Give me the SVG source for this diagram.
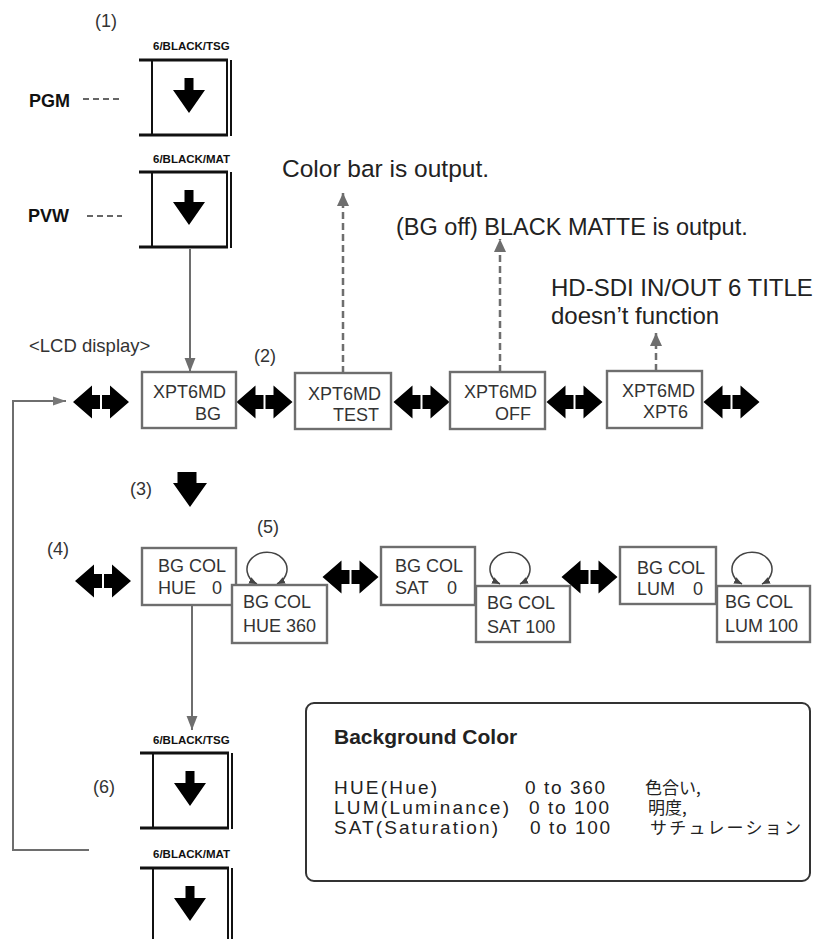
<svg xmlns="http://www.w3.org/2000/svg" width="814" height="939" viewBox="0 0 814 939">
<style>
.t{font-family:"Liberation Sans",Arial,sans-serif;fill:#333;font-size:18px}
.ann{font-family:"Liberation Sans",Arial,sans-serif;fill:#222;font-size:23.5px}
.num{font-family:"Liberation Sans",Arial,sans-serif;fill:#333;font-size:18px}
.lbl{font-family:"Liberation Sans",Arial,sans-serif;font-weight:bold;fill:#111;font-size:11.5px}
.pg{font-family:"Liberation Sans",Arial,sans-serif;font-weight:bold;fill:#111;font-size:18px}
.lg{font-family:"Liberation Sans",Arial,sans-serif;fill:#222;font-size:19px}
.jp{font-family:"Noto Sans CJK JP",sans-serif;fill:#222;font-size:17px}
.box{fill:#fff;stroke:#6e6e6e;stroke-width:2.4}
.con{fill:none;stroke:#6e6e6e;stroke-width:2}
.dash{fill:none;stroke:#6e6e6e;stroke-width:2.5;stroke-dasharray:7 4}
.pgdash{fill:none;stroke:#666;stroke-width:2.2;stroke-dasharray:6 4}
.loop{fill:none;stroke:#444;stroke-width:1.5}
</style>
<defs>
<marker id="ah" markerUnits="userSpaceOnUse" markerWidth="14" markerHeight="18" refX="18" refY="7" viewBox="0 0 18 14" orient="auto"><path d="M0,0 L18,7 L0,14 z" fill="#6e6e6e"/></marker>
<marker id="ahd" markerUnits="userSpaceOnUse" markerWidth="13" markerHeight="13" refX="13" refY="6" viewBox="0 0 13 12" orient="auto"><path d="M0,0 L13,6 L0,12 z" fill="#6e6e6e"/></marker>
<marker id="ahb" markerUnits="userSpaceOnUse" markerWidth="13" markerHeight="13" refX="13" refY="4.5" viewBox="0 0 13 9" orient="auto"><path d="M0,0 L13,4.5 L0,9 z" fill="#777"/></marker>
<marker id="ahl" markerUnits="userSpaceOnUse" markerWidth="8" markerHeight="8" refX="8" refY="3.5" viewBox="0 0 8 7" orient="auto-start-reverse"><path d="M0,0 L8,3.5 L0,7 z" fill="#444"/></marker>
<g id="btn">
<path d="M-13,0 H76 M-13,75 H76" stroke="#111" stroke-width="3" fill="none"/>
<rect x="0" y="0" width="75" height="75" fill="none" stroke="#111" stroke-width="2"/>
<path d="M79,0 V76" stroke="#111" stroke-width="2"/>
<polygon points="32.5,18 41.5,18 41.5,30 53,30 37,53 21,30 32.5,30" fill="#000"/>
</g>
<g id="dbl">
<polygon points="-28,0 -9,-16.5 -9,-7 -1,-7 -1,7 -9,7 -9,16.5" fill="#000"/>
<polygon points="28,0 9,-16.5 9,-7 1,-7 1,7 9,7 9,16.5" fill="#000"/>
</g>
</defs>
<rect width="814" height="939" fill="#fff"/>

<g id="connectors">
<path class="con" d="M190,249 V372" marker-end="url(#ah)"/>
<path class="con" d="M192,606 V730" marker-end="url(#ah)"/>
<path class="con" d="M89,850 H13 V401 H66" marker-end="url(#ahb)"/>
<path class="dash" d="M343,373 V193" marker-end="url(#ahd)"/>
<path class="dash" d="M500,372 V239" marker-end="url(#ahd)"/>
<path class="dash" d="M656,371 V333" marker-end="url(#ahd)"/>
<path class="pgdash" d="M83,99 H122"/>
<path class="pgdash" d="M87,216 H122"/>
<path class="loop" d="M257,584 A20,17 0 1 1 277,584" marker-start="url(#ahl)" marker-end="url(#ahl)"/>
<path class="loop" d="M500,584 A20,17 0 1 1 520,584" marker-start="url(#ahl)" marker-end="url(#ahl)"/>
<path class="loop" d="M742,584 A20,17 0 1 1 762,584" marker-start="url(#ahl)" marker-end="url(#ahl)"/>
<use href="#dbl" x="101" y="402"/>
<use href="#dbl" x="264.5" y="402"/>
<use href="#dbl" x="421.5" y="402"/>
<use href="#dbl" x="574.5" y="402"/>
<use href="#dbl" x="731.5" y="402"/>
<use href="#dbl" x="103" y="581"/>
<use href="#dbl" x="350.5" y="577"/>
<use href="#dbl" x="589.5" y="577"/>
<polygon points="177.5,472 196.5,472 196.5,483 207,483 190,507 173,483 177.5,483" fill="#000"/>
</g>

<g id="labels">
<text class="num" x="95" y="27">(1)</text>
<text class="num" x="254" y="362">(2)</text>
<text class="num" x="130" y="495">(3)</text>
<text class="num" x="47" y="555">(4)</text>
<text class="num" x="257" y="533">(5)</text>
<text class="num" x="93" y="793">(6)</text>
<text class="pg" x="29" y="107">PGM</text>
<text class="pg" x="28" y="222">PVW</text>
<text class="t" x="29" y="352" style="font-size:18.5px">&lt;LCD display&gt;</text>
<text class="ann" x="282" y="177" style="font-size:24.5px">Color bar is output.</text>
<text class="ann" x="396" y="235">(BG off) BLACK MATTE is output.</text>
<text class="ann" x="551" y="296" style="font-size:24px">HD-SDI IN/OUT 6 TITLE</text>
<text class="ann" x="551" y="324" style="font-size:24px"> doesn’t function</text>
</g>

<g id="btn-pgm">
<text class="lbl" x="153" y="50">6/BLACK/TSG</text>
<use href="#btn" x="152" y="60"/>
</g>
<g id="btn-pvw">
<text class="lbl" x="153" y="163">6/BLACK/MAT</text>
<use href="#btn" x="152" y="172"/>
</g>
<g id="btn-tsg2">
<text class="lbl" x="153" y="744">6/BLACK/TSG</text>
<use href="#btn" x="153" y="753"/>
</g>
<g id="btn-mat2">
<text class="lbl" x="153" y="858">6/BLACK/MAT</text>
<use href="#btn" x="153" y="868"/>
</g>

<g id="n-bg">
<rect class="box" x="142" y="372" width="94" height="56"/>
<text class="t" x="153" y="398">XPT6MD</text>
<text class="t" x="221" y="420" text-anchor="end">BG</text>
</g>
<g id="n-test">
<rect class="box" x="295" y="373" width="96" height="56"/>
<text class="t" x="308" y="400">XPT6MD</text>
<text class="t" x="379" y="421" text-anchor="end">TEST</text>
</g>
<g id="n-off">
<rect class="box" x="450" y="372" width="95" height="57"/>
<text class="t" x="464" y="398">XPT6MD</text>
<text class="t" x="531" y="420" text-anchor="end">OFF</text>
</g>
<g id="n-xpt6">
<rect class="box" x="607" y="371" width="95" height="57"/>
<text class="t" x="622" y="397">XPT6MD</text>
<text class="t" x="688" y="418" text-anchor="end">XPT6</text>
</g>

<g id="n-hue0">
<rect class="box" x="142" y="548" width="94" height="57"/>
<text class="t" x="158" y="572">BG COL</text>
<text class="t" x="158" y="594">HUE</text>
<text class="t" x="212" y="594">0</text>
</g>
<g id="n-hue360">
<rect class="box" x="232" y="585" width="95" height="58"/>
<text class="t" x="243" y="608">BG COL</text>
<text class="t" x="243" y="632">HUE 360</text>
</g>
<g id="n-sat0">
<rect class="box" x="381" y="547" width="94" height="58"/>
<text class="t" x="395" y="572">BG COL</text>
<text class="t" x="395" y="594">SAT</text>
<text class="t" x="447" y="594">0</text>
</g>
<g id="n-sat100">
<rect class="box" x="476" y="586" width="94" height="56"/>
<text class="t" x="487" y="609">BG COL</text>
<text class="t" x="487" y="633">SAT 100</text>
</g>
<g id="n-lum0">
<rect class="box" x="620" y="547" width="96" height="57"/>
<text class="t" x="637" y="574">BG COL</text>
<text class="t" x="637" y="595">LUM</text>
<text class="t" x="693" y="595">0</text>
</g>
<g id="n-lum100">
<rect class="box" x="717" y="586" width="93" height="56"/>
<text class="t" x="725" y="608">BG COL</text>
<text class="t" x="725" y="632">LUM 100</text>
</g>

<g id="legend">
<rect x="306" y="703" width="504" height="178" rx="8" fill="#fff" stroke="#333" stroke-width="2"/>
<text class="lg" x="334" y="744" style="font-weight:bold;font-size:21px">Background Color</text>
<text class="lg" x="334" y="794" textLength="103" lengthAdjust="spacing">HUE(Hue)</text>
<text class="lg" x="525" y="794" textLength="80" lengthAdjust="spacing">0 to 360</text>
<text class="jp" x="645" y="794">色合い,</text>
<text class="lg" x="334" y="814" textLength="175" lengthAdjust="spacing">LUM(Luminance)</text>
<text class="lg" x="529" y="814" textLength="80" lengthAdjust="spacing">0 to 100</text>
<text class="jp" x="648" y="814">明度,</text>
<text class="lg" x="334" y="834" textLength="164" lengthAdjust="spacing">SAT(Saturation)</text>
<text class="lg" x="530" y="834" textLength="80" lengthAdjust="spacing">0 to 100</text>
<text class="jp" x="650" y="834" textLength="151" lengthAdjust="spacing">サチュレーション</text>
</g>
</svg>
